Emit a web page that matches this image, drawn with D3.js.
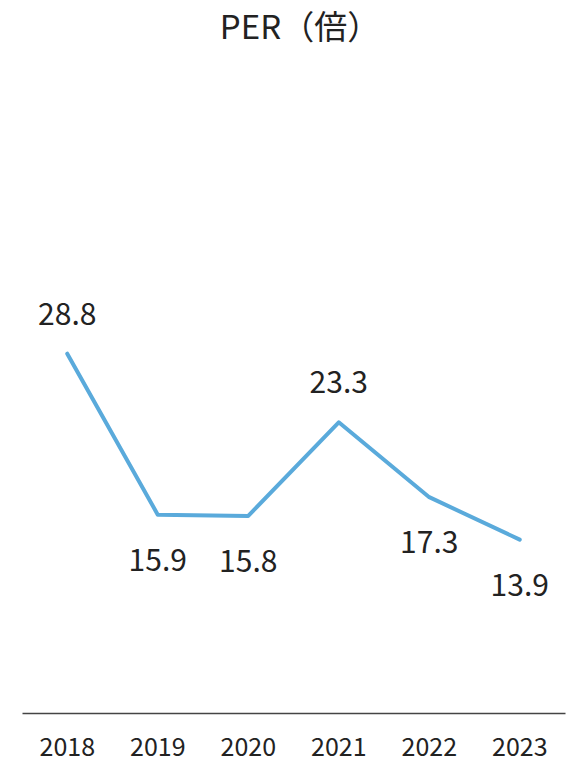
<!DOCTYPE html>
<html><head><meta charset="utf-8">
<script src="https://cdn.jsdelivr.net/npm/d3@7"></script>
<style>body{margin:0;background:#fff}svg{display:block}</style>
</head><body>
<script>
const years = ["2018","2019","2020","2021","2022","2023"];
const per = [28.8, 15.9, 15.8, 23.3, 17.3, 13.9];
const labelPos = ["above","below","below","above","below","below"];
const title = "PER（倍）";

const W = 579, H = 765;
const font = "'Noto Sans CJK JP', 'Noto Sans', sans-serif";
const svg = d3.select("body").append("svg").attr("width", W).attr("height", H);

const x = d3.scaleBand().domain(years).range([22, 565]);
const y = d3.scaleLinear().domain([0, 40]).range([713, 214]);

svg.append("text").attr("x", 300).attr("y", 39).attr("text-anchor", "middle")
  .style("font-family", font).style("font-size", "33px").attr("fill", "#222").text(title);

const axis = svg.append("g").attr("transform", "translate(0,713)")
  .call(d3.axisBottom(x).tickSize(0).tickPadding(25));
axis.select(".domain").attr("stroke", "#444").attr("stroke-width", 1.3);
axis.selectAll("text").style("font-family", font).style("font-size", "25px").attr("fill", "#222");

const cx = d => x(d) + x.bandwidth() / 2;
svg.append("path").datum(per)
  .attr("fill", "none").attr("stroke", "#5AAADB").attr("stroke-width", 4)
  .attr("stroke-linejoin", "round").attr("stroke-linecap", "round")
  .attr("d", d3.line().x((d, i) => cx(years[i])).y(d => y(d)));

svg.selectAll(".lbl").data(per).enter().append("text")
  .attr("x", (d, i) => cx(years[i]))
  .attr("y", (d, i) => labelPos[i] === "above" ? y(d) - 29 : y(d) + 56)
  .attr("text-anchor", "middle")
  .style("font-family", font).style("font-size", "30px").attr("fill", "#222")
  .text(d => d.toFixed(1));
</script>
</body></html>
